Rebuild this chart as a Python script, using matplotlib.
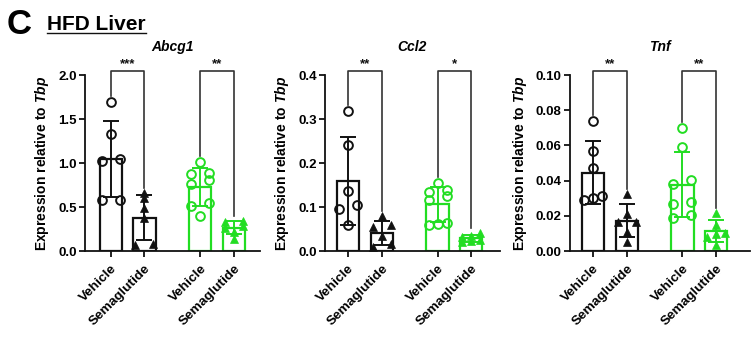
import numpy as np
import matplotlib
matplotlib.use("Agg")
import matplotlib.pyplot as plt
from matplotlib.lines import Line2D

plt.rcParams['font.family'] = ['Liberation Sans', 'DejaVu Sans']
plt.rcParams['mathtext.fontset'] = 'custom'
plt.rcParams['mathtext.it'] = 'Liberation Sans:italic:bold'
plt.rcParams['mathtext.rm'] = 'Liberation Sans:bold'

# ---------------- data ----------------
groups = ["Vehicle", "Semaglutide", "Vehicle", "Semaglutide"]
genes = ["Abcg1", "Ccl2", "Tnf"]

abcg1_veh_black = [1.69, 1.33, 1.05, 1.02, 0.58, 0.58]
abcg1_sema_black = [0.66, 0.60, 0.49, 0.38, 0.08, 0.07]
abcg1_veh_green = [1.01, 0.89, 0.88, 0.81, 0.76, 0.55, 0.51, 0.40]
abcg1_sema_green = [0.34, 0.335, 0.28, 0.265, 0.22, 0.14]

ccl2_veh_black = [0.319, 0.241, 0.136, 0.105, 0.096, 0.058]
ccl2_sema_black = [0.080, 0.058, 0.054, 0.035, 0.015, 0.008]
ccl2_veh_green = [0.155, 0.138, 0.134, 0.125, 0.117, 0.063, 0.061, 0.058]
ccl2_sema_green = [0.040, 0.033, 0.031, 0.026, 0.022, 0.020]

tnf_veh_black = [0.0736, 0.0566, 0.0472, 0.0311, 0.0300, 0.0287]
tnf_sema_black = [0.0325, 0.0213, 0.0166, 0.0164, 0.0110, 0.0053]
tnf_veh_green = [0.0698, 0.0590, 0.0403, 0.0380, 0.0277, 0.0268, 0.0202, 0.0185]
tnf_sema_green = [0.0217, 0.0147, 0.0105, 0.0095, 0.0082, 0.0035]

stars_abcg1 = ["***", "**"]
stars_ccl2 = ["**", "*"]
stars_tnf = ["**", "**"]

yticks_abcg1 = [0.0, 0.5, 1.0, 1.5, 2.0]
yticks_ccl2 = [0.0, 0.1, 0.2, 0.3, 0.4]
yticks_tnf = [0.00, 0.02, 0.04, 0.06, 0.08, 0.10]
ytick_fmt = ["{:.1f}", "{:.1f}", "{:.2f}"]

panels = [
    (genes[0], [abcg1_veh_black, abcg1_sema_black, abcg1_veh_green, abcg1_sema_green], stars_abcg1, yticks_abcg1),
    (genes[1], [ccl2_veh_black, ccl2_sema_black, ccl2_veh_green, ccl2_sema_green], stars_ccl2, yticks_ccl2),
    (genes[2], [tnf_veh_black, tnf_sema_black, tnf_veh_green, tnf_sema_green], stars_tnf, yticks_tnf),
]

# ---------------- style ----------------
BLACK = "#111111"
GREEN = "#22DD22"
colors = [BLACK, BLACK, GREEN, GREEN]
markers = ["o", "^", "o", "^"]
xpos = [0, 1, 2.65, 3.65]
bar_w = 0.66

W, H = 751, 339
fig = plt.figure(figsize=(W / 100, H / 100), dpi=100)

ax_boxes = [(85, 175), (325, 175), (570, 180)]
ax_top, ax_bot = 75, 251
xlims = [(-0.76, 4.42), (-0.68, 4.5), (-0.68, 4.65)]


def swarm_offsets(vals, ypx, xpx, d_px=9.0, thr_px=4.6):
    vals = np.asarray(vals, float)
    order = np.argsort(-vals)
    rows = []
    for i in order:
        if rows and (vals[rows[-1][0]] - vals[i]) * ypx < thr_px:
            rows[-1].append(i)
        else:
            rows.append([i])
    off = np.zeros(len(vals))
    for r in rows:
        k = len(r)
        r_sorted = sorted(r, key=lambda j: vals[j])
        if k == 1:
            offs = [0.0]
        elif k == 2:
            offs = [-d_px, d_px]
        else:
            offs = np.linspace(-(k - 1) / 2 * d_px, (k - 1) / 2 * d_px, k)
        for j, o in zip(r_sorted, offs):
            off[j] = o / xpx
    return off


for pi, (gene, data, stars, yt) in enumerate(panels):
    left, width = ax_boxes[pi]
    ax = fig.add_axes([left / W, 1 - ax_bot / H, width / W, (ax_bot - ax_top) / H])
    ymax = yt[-1]
    ax.set_ylim(0, ymax)
    ax.set_xlim(*xlims[pi])
    ypx = (ax_bot - ax_top) / ymax
    xpx = width / (xlims[pi][1] - xlims[pi][0])

    tops = []
    for gi, vals in enumerate(data):
        vals = np.asarray(vals, float)
        m = vals.mean()
        sd = vals.std(ddof=1)
        c = colors[gi]
        ax.bar(xpos[gi], m, width=bar_w, facecolor="white", edgecolor=c,
               linewidth=1.6, zorder=1)
        ax.errorbar(xpos[gi], m, yerr=sd, fmt="none", ecolor=c, elinewidth=1.4,
                    capsize=6, capthick=1.4, zorder=2)
        offs = swarm_offsets(vals, ypx, xpx)
        if markers[gi] == "o":
            ax.plot(xpos[gi] + offs, vals, linestyle="none", marker="o", ms=6.3,
                    mfc="none", mec=c, mew=1.4, zorder=3, clip_on=False)
        else:
            ax.plot(xpos[gi] + offs, vals, linestyle="none", marker="^", ms=6.3,
                    mfc=c, mec=c, mew=0.5, zorder=3, clip_on=False)
        tops.append(max(vals.max(), m + sd))

    # significance brackets
    ybr = ymax + 4 / ypx
    for k in range(2):
        a, b = 2 * k, 2 * k + 1
        ya = tops[a] + 6 / ypx
        yb = tops[b] + 5 / ypx
        ax.plot([xpos[a], xpos[a], xpos[b], xpos[b]], [ya, ybr, ybr, yb],
                color="#333333", lw=1.2, clip_on=False, zorder=4)
        ax.text((xpos[a] + xpos[b]) / 2, ybr + 0.5 / ypx, stars[k], ha="center",
                va="bottom", fontsize=9.5, fontweight="bold", color=BLACK)

    ax.text(0.5, 1 + 28 / (ax_bot - ax_top), gene, transform=ax.transAxes,
            ha="center", va="center", fontsize=10, fontweight="bold",
            fontstyle="italic")

    ax.spines["top"].set_visible(False)
    ax.spines["right"].set_visible(False)
    for s in ["left", "bottom"]:
        ax.spines[s].set_linewidth(1.3)
        ax.spines[s].set_color(BLACK)
    ax.set_yticks(yt)
    ax.set_yticklabels([ytick_fmt[pi].format(v) for v in yt], fontsize=9.5,
                       fontweight="bold")
    ax.set_xticks(xpos)
    ax.set_xticklabels(groups, rotation=45, ha="right", rotation_mode="anchor",
                       fontsize=9.7, fontweight="bold")
    ax.tick_params(axis="both", direction="out", length=4, width=1.3,
                   color=BLACK, pad=2)
    ax.tick_params(axis="x", pad=4)
    ax.set_ylabel(r"Expression relative to $\mathit{Tbp}$", fontsize=10,
                  fontweight="bold", labelpad=5)

# Panel letter and title
fig.text(7 / W, 1 - 25 / H, "C", fontsize=25, fontweight="bold", va="center",
         ha="left")
t = fig.text(47 / W, 1 - 24 / H, "HFD Liver", fontsize=15, fontweight="bold",
             va="center", ha="left")
fig.canvas.draw()
bb = t.get_window_extent()
uy = bb.y0 + 1
fig.add_artist(Line2D([bb.x0 / W, bb.x1 / W], [uy / H, uy / H],
                      transform=fig.transFigure, color=BLACK, lw=1.0))

fig.savefig("out.png", dpi=100)
